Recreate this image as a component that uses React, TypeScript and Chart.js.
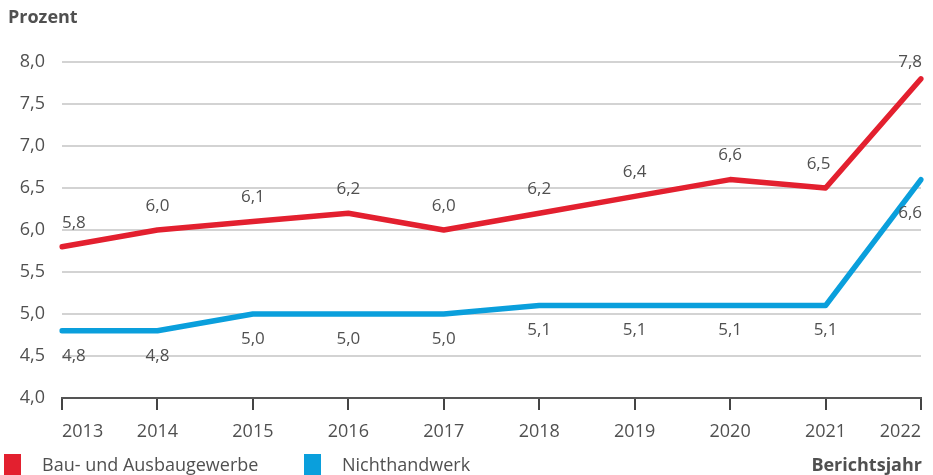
import React, { useEffect, useRef } from "react";
import { Chart, registerables } from "chart.js";

Chart.register(...registerables);

const years = ["2013", "2014", "2015", "2016", "2017", "2018", "2019", "2020", "2021", "2022"];
const bauValues = [5.8, 6.0, 6.1, 6.2, 6.0, 6.2, 6.4, 6.6, 6.5, 7.8];
const nichtValues = [4.8, 4.8, 5.0, 5.0, 5.0, 5.1, 5.1, 5.1, 5.1, 6.6];
const seriesNames = ["Bau- und Ausbaugewerbe", "Nichthandwerk"];
const yTitle = "Prozent";
const xTitle = "Berichtsjahr";

const RED = "#e3202f";
const BLUE = "#0a9fdc";
const TEXT = "#505050";
const FONT = "'Open Sans', 'DejaVu Sans', sans-serif";
const FS = 18;

const fmt = (v: number) => v.toFixed(1).replace(".", ",");

const labelPlugin = {
  id: "pointLabels",
  afterDatasetsDraw(chart: any) {
    const ctx = chart.ctx;
    ctx.save();
    ctx.font = `${FS - 1}px ${FONT}`;
    ctx.fillStyle = TEXT;
    ctx.textBaseline = "middle";
    chart.data.datasets.forEach((ds: any, di: number) => {
      const meta = chart.getDatasetMeta(di);
      const n = ds.data.length;
      meta.data.forEach((pt: any, i: number) => {
        const txt = fmt(ds.data[i]);
        let x = pt.x;
        let y = di === 0 ? pt.y - 24 : pt.y + 25;
        let align: CanvasTextAlign = "center";
        if (i === 0) { x = pt.x; align = "left"; }
        if (i === n - 1) { x = pt.x + 1; align = "right"; }
        if (di === 0 && i === n - 2) { x = pt.x - 7; }
        if (di === 0 && i === n - 1) { y = pt.y - 17; }
        if (di === 1 && i === n - 1) { y = pt.y + 34; }
        ctx.textAlign = align;
        ctx.fillText(txt, x, y);
      });
    });
    ctx.restore();
  },
};

const decoPlugin = {
  id: "deco",
  afterDraw(chart: any) {
    const ctx = chart.ctx;
    const w = chart.width;
    const h = chart.height;
    ctx.save();
    ctx.fillStyle = TEXT;
    ctx.textBaseline = "middle";
    ctx.font = `bold ${FS}px ${FONT}`;
    ctx.textAlign = "left";
    ctx.fillText(yTitle, 8, 18);
    ctx.textAlign = "right";
    ctx.fillText(xTitle, w - 11, h - 9);
    ctx.font = `${FS}px ${FONT}`;
    ctx.textAlign = "left";
    const items = [
      { x: 4, color: RED, label: seriesNames[0] },
      { x: 304, color: BLUE, label: seriesNames[1] },
    ];
    items.forEach((it) => {
      ctx.fillStyle = it.color;
      ctx.fillRect(it.x, h - 21, 17, 21);
      ctx.fillStyle = TEXT;
      ctx.fillText(it.label, it.x + 38, h - 9);
    });
    ctx.restore();
  },
};

export default function App() {
  const ref = useRef<HTMLCanvasElement | null>(null);
  useEffect(() => {
    if (!ref.current) return;
    const chart = new Chart(ref.current, {
      type: "line",
      data: {
        labels: years,
        datasets: [
          {
            label: seriesNames[0],
            data: bauValues,
            borderColor: RED,
            backgroundColor: RED,
            borderWidth: 5.5,
            pointRadius: 0,
            tension: 0,
            borderJoinStyle: "round",
            borderCapStyle: "round",
          },
          {
            label: seriesNames[1],
            data: nichtValues,
            borderColor: BLUE,
            backgroundColor: BLUE,
            borderWidth: 5.5,
            pointRadius: 0,
            tension: 0,
            borderJoinStyle: "round",
            borderCapStyle: "round",
          },
        ],
      },
      options: {
        responsive: false,
        animation: false,
        layout: { padding: { top: 62, right: 12, left: 0, bottom: 0 } },
        plugins: {
          legend: { display: false },
          tooltip: { enabled: false },
        },
        scales: {
          x: {
            offset: false,
            grid: {
              display: true,
              drawOnChartArea: false,
              drawTicks: true,
              tickLength: 12,
              color: "#444",
              lineWidth: 2,
            },
            border: { display: true, color: "#555", width: 2 },
            ticks: {
              color: TEXT,
              font: { family: FONT, size: FS },
              padding: 11,
              maxRotation: 0,
              autoSkip: false,
              align: "inner",
            },
            afterFit: (s: any) => { s.height = 77; },
          },
          y: {
            min: 4,
            max: 8,
            ticks: {
              stepSize: 0.5,
              color: TEXT,
              font: { family: FONT, size: FS },
              padding: 17,
              callback: (v: any) => fmt(Number(v)),
            },
            grid: {
              color: "#d3d3d3",
              lineWidth: 2,
              drawTicks: false,
            },
            border: { display: false },
            afterFit: (s: any) => { s.width = 62; },
          },
        },
      },
      plugins: [labelPlugin, decoPlugin],
    });
    return () => chart.destroy();
  }, []);
  return (
    <div style={{ position: "fixed", left: 0, top: 0, width: 933, height: 475, background: "#fff" }}>
      <canvas ref={ref} width={933} height={475} style={{ width: 933, height: 475 }} />
    </div>
  );
}
